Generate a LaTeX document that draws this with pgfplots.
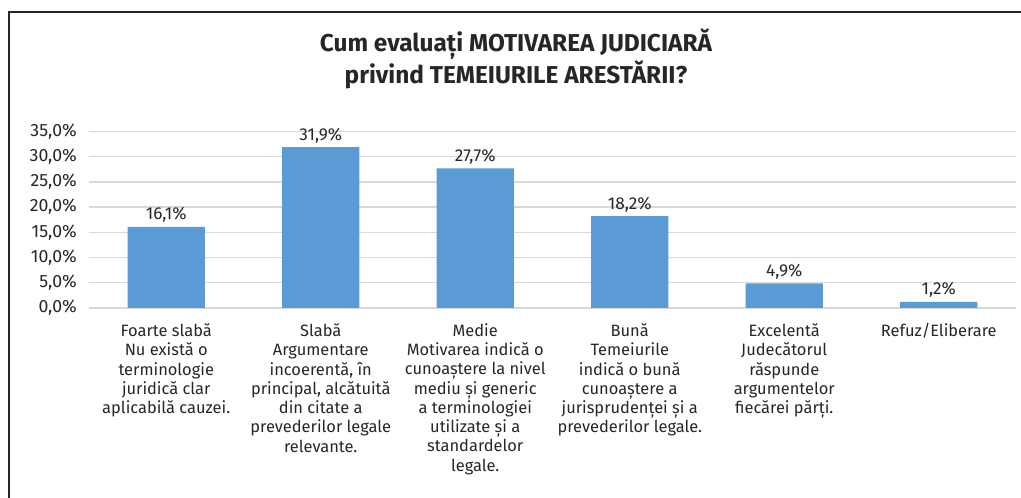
\documentclass[border=0pt]{standalone}
\usepackage{fontspec}
\setmainfont{Fira Sans}
\usepackage{pgfplots}
\pgfplotsset{compat=1.18}
\definecolor{barC}{HTML}{5B9BD5}
\definecolor{gridC}{HTML}{D9D9D9}
\definecolor{txtC}{HTML}{262626}
\begin{document}
\begin{tikzpicture}
\begin{axis}[
  name=ax, scale only axis,
  width=927bp, height=176.5bp,
  ymin=0, ymax=35, xmin=-0.5, xmax=5.5,
  ybar, bar width=0.5, bar shift=0pt,
  axis line style={draw=none}, major tick length=0pt,
  ytick={0,5,...,35},
  ymajorgrids=true, grid style={draw=gridC,line width=1.4bp},
  /pgf/number format/assume math mode=true,
  yticklabel={\pgfmathprintnumber[fixed,zerofill,precision=1,use comma]{\tick}\%},
  yticklabel style={font=\fontsize{17.8}{20}\selectfont,color=txtC,
      anchor=east,inner sep=0pt,xshift=-12bp},
  xtick={0,1,2,3,4,5},
  xticklabels={%
    {Foarte slabă\\Nu există o\\terminologie\\juridică clar\\aplicabilă cauzei.},
    {Slabă\\Argumentare\\incoerentă, în\\principal, alcătuită\\din citate a\\prevederilor legale\\relevante.},
    {Medie\\Motivarea indică o\\cunoaștere la nivel\\mediu și generic\\a terminologiei\\utilizate și a\\standardelor\\legale.},
    {Bună\\Temeiurile\\indică o bună\\cunoaștere a\\jurisprudenței și a\\prevederilor legale.},
    {Excelentă\\Judecătorul\\răspunde\\argumentelor\\fiecărei părți.},
    {Refuz/Eliberare}},
  xticklabel style={font=\fontsize{16.5}{19.3}\selectfont,color=txtC,
      align=center,anchor=north,inner sep=0pt,yshift=-15.5bp},
  nodes near coords={\pgfmathprintnumber[fixed,zerofill,precision=1,use comma,assume math mode=true]{\pgfplotspointmeta}\%},
  nodes near coords style={font=\fontsize{17.3}{20}\selectfont,color=txtC,
      anchor=south,inner sep=0pt,yshift=4bp},
  clip=false]
\addplot[draw=none,fill=barC] coordinates {
  (0,16.1) (1,31.9) (2,27.7) (3,18.2) (4,4.9) (5,1.2)};
\end{axis}
% page laid out in bp from the axis' lower left corner
\begin{scope}[x=1bp,y=1bp,shift={(ax.south west)},shift={(-89,-190)}]
\useasboundingbox (0,0) rectangle (1021,498);
\draw[line width=1.6bp,color=black!85] (9,0) -- (9,486) -- (1021,486);
\node[font=\fontsize{24.5}{29}\selectfont\bfseries,color=txtC,align=center]
  at (516,439) {Cum evaluați MOTIVAREA JUDICIARĂ\\privind TEMEIURILE ARESTĂRII?};
\end{scope}
\end{tikzpicture}
\end{document}
